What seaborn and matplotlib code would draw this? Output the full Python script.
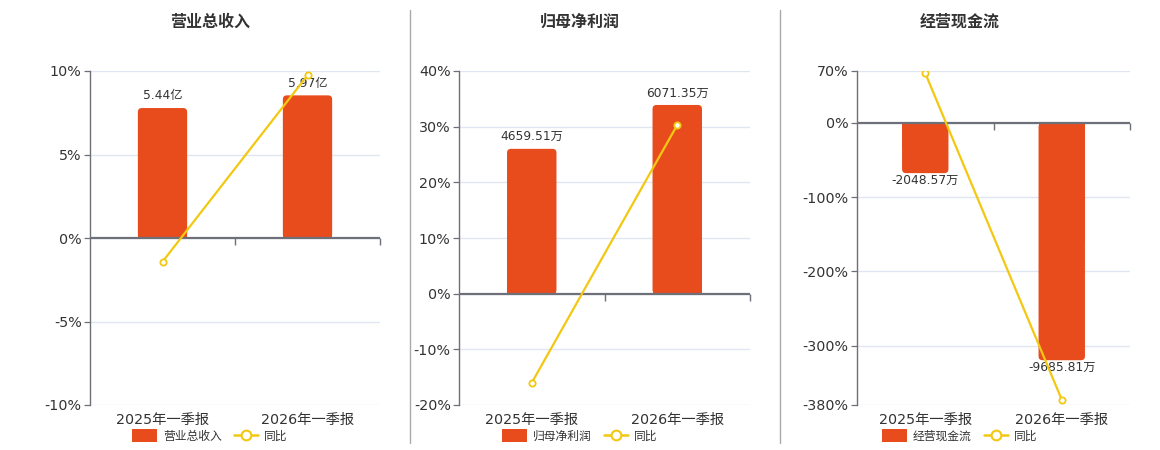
import matplotlib
matplotlib.use("Agg")
import matplotlib.pyplot as plt
import seaborn as sns
import pandas as pd
from matplotlib.lines import Line2D
from matplotlib.patches import Patch, FancyBboxPatch, Rectangle

# ---------------- data ----------------
periods = ["2025年一季报", "2026年一季报"]
titles = ["营业总收入", "归母净利润", "经营现金流"]
units = ["亿", "万", "万"]

revenue = [5.44, 5.97]            # 亿
revenue_yoy = [-1.42, 9.74]       # %
profit = [4659.51, 6071.35]       # 万
profit_yoy = [-16.0, 30.30]       # %
cashflow = [-2048.57, -9685.81]   # 万
cashflow_yoy = [67.0, -372.8]     # %

pct_ticks = [[-10, -5, 0, 5, 10],
             [-20, -10, 0, 10, 20, 30, 40],
             [-380, -300, -200, -100, 0, 70]]

# ---------------- style ----------------
sns.set_style("white")
plt.rcParams["font.family"] = ["DejaVu Sans", "Noto Sans CJK SC"]

BAR = "#E84C1D"
LINE = "#F2C811"
AXIS = "#6E7079"
GRID = "#E0E6F1"
TXT = "#333333"

W, H = 1160, 450
fig = plt.figure(figsize=(W / 100, H / 100), dpi=100)
fig.patch.set_facecolor("white")

# px layout of each panel: (left, right), title/legend center
rects = [(90, 380), (459, 750), (857, 1130)]
centers = [210, 580, 960]
top_px, bot_px = 71, 405
# bar value units per percent (secondary scale, zero aligned)
bar_per_pct = [0.699, 179.1, 30.3]
RADIUS_PX = 4

bars_all = [revenue, profit, cashflow]
yoy_all = [revenue_yoy, profit_yoy, cashflow_yoy]

for i in range(3):
    l, r = rects[i]
    ax = fig.add_axes([l / W, 1 - bot_px / H, (r - l) / W, (bot_px - top_px) / H])
    ticks = pct_ticks[i]
    k = bar_per_pct[i]
    lo, hi = min(ticks), max(ticks)

    df = pd.DataFrame({"period": periods, "value": bars_all[i]})
    sns.barplot(data=df, x="period", y="value", ax=ax, color=BAR,
                width=0.34, saturation=1, edgecolor="none", zorder=2)
    ax.set_ylim(lo * k, hi * k)
    ax.set_xlim(-0.5, 1.5)

    # round the far-end corners of the bars
    x_per_px = 2.0 / (r - l)
    y_per_px = (hi - lo) * k / (bot_px - top_px)
    rs = RADIUS_PX * x_per_px
    for p in list(ax.patches):
        x0, y0, w, h = p.get_x(), p.get_y(), p.get_width(), p.get_height()
        ybot, hh = (y0, h) if h >= 0 else (y0 + h, -h)
        p.set_visible(False)
        ax.add_patch(FancyBboxPatch((x0, ybot), w, hh,
                                    boxstyle=f"round,pad=0,rounding_size={rs}",
                                    mutation_aspect=y_per_px / x_per_px,
                                    facecolor=BAR, edgecolor="none", zorder=2))
        ax.add_patch(Rectangle((x0, y0), w, h / 2, facecolor=BAR,
                               edgecolor="none", zorder=2))

    ax.set_yticks([t * k for t in ticks])
    ax.tick_params(axis="y", left=False, labelleft=False)
    ax.yaxis.grid(True, color=GRID, lw=1)
    ax.set_axisbelow(True)
    ax.set_xlabel("")
    ax.set_ylabel("")
    ax.tick_params(axis="x", length=0, labelsize=10.3, labelcolor=TXT, pad=6)
    for s in ax.spines.values():
        s.set_visible(False)

    # data labels
    unit = units[i]
    for j, v in enumerate(bars_all[i]):
        if v >= 0:
            ax.annotate(f"{v:.2f}{unit}", xy=(j, v), xytext=(0, 4),
                        textcoords="offset points", ha="center", va="bottom",
                        fontsize=8.8, color=TXT, zorder=5)
        else:
            ax.annotate(f"{v:.2f}{unit}", xy=(j, v), xytext=(0, -0.5),
                        textcoords="offset points", ha="center", va="top",
                        fontsize=8.8, color=TXT, zorder=5)

    # percentage axis with yoy line
    ax2 = ax.twinx()
    ax2.set_ylim(lo, hi)
    ldf = pd.DataFrame({"x": [0, 1], "yoy": yoy_all[i]})
    sns.lineplot(data=ldf, x="x", y="yoy", ax=ax2, color=LINE, lw=1.6,
                 marker="o", markersize=4.5, markerfacecolor="white",
                 markeredgecolor=LINE, markeredgewidth=1.3, zorder=4)
    ax2.axhline(0, color=AXIS, lw=1.6, zorder=3)
    ax2.plot([0.5, 1.5], [0, 0], ls="none", marker=3, ms=5, mew=1,
             color=AXIS, clip_on=False, zorder=3)
    ax2.set_yticks(ticks)
    ax2.set_yticklabels([f"{t}%" for t in ticks])
    ax2.yaxis.tick_left()
    ax2.tick_params(axis="y", left=True, right=False, labelleft=True,
                    labelright=False, length=4, color=AXIS,
                    labelsize=10.3, labelcolor=TXT, pad=2)
    ax2.tick_params(axis="x", bottom=False, labelbottom=False,
                    top=False, labeltop=False)
    ax2.set_xlabel("")
    ax2.set_ylabel("")
    for name, s in ax2.spines.items():
        s.set_visible(name == "left")
    ax2.spines["left"].set_color(AXIS)
    ax2.spines["left"].set_linewidth(1)
    ax2.set_xlim(-0.5, 1.5)

    # title
    fig.text(centers[i] / W, 1 - 22 / H, titles[i], ha="center", va="center",
             fontsize=11.5, fontweight="bold", color=TXT,
             family=["Noto Sans CJK SC", "DejaVu Sans"])

    # legend
    handles = [
        Patch(facecolor=BAR, edgecolor="none", label=titles[i]),
        Line2D([], [], color=LINE, lw=1.8, marker="o", ms=7,
               markerfacecolor="white", markeredgecolor=LINE,
               markeredgewidth=1.5, label="同比"),
    ]
    fig.legend(handles=handles, loc="center",
               bbox_to_anchor=(centers[i] / W, 1 - 436 / H), ncol=2,
               frameon=False, fontsize=8.5, handlelength=2.1,
               handleheight=1.2, columnspacing=1.0, handletextpad=0.5,
               labelcolor=TXT)

# separators
for xs in (410, 780):
    fig.add_artist(Line2D([xs / W, xs / W], [1 - 10 / H, 1 - 443 / H],
                          color="#AAAAAA", lw=1))

fig.savefig("out.png", dpi=100, facecolor="white")
